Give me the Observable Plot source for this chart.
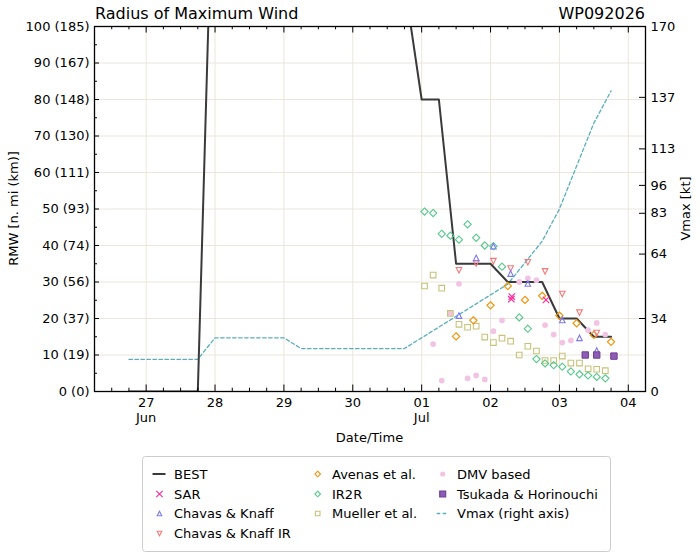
<!DOCTYPE html>
<html>
<head>
<meta charset="utf-8">
<script src="https://cdn.jsdelivr.net/npm/d3@7"></script>
<script src="https://cdn.jsdelivr.net/npm/@observablehq/plot@0.6"></script>
<style>
  body { margin: 0; background: #fff; }
  #chart { position: relative; width: 700px; height: 559px; font-family: "DejaVu Sans", sans-serif; }
  #chart svg { position: absolute; left: 0; top: 0; }
</style>
</head>
<body>
<div id="chart"></div>
<script>
// ---- Storm WP092026: radius of maximum wind estimates (n mi) and intensity (kt) ----
const bestTimes = ["2026-06-26T18:00","2026-06-27T00:00","2026-06-27T06:00","2026-06-27T12:00","2026-06-27T18:00",
  "2026-06-28T00:00","2026-06-30T18:00","2026-07-01T00:00","2026-07-01T06:00","2026-07-01T12:00","2026-07-01T18:00",
  "2026-07-02T00:00","2026-07-02T06:00","2026-07-02T12:00","2026-07-02T18:00","2026-07-03T00:00","2026-07-03T06:00",
  "2026-07-03T12:00","2026-07-03T18:00"];
const bestRmw = [0,0,0,0,0,165,112,80,80,35,35,35,30,30,30,20,20,15,15];

const vmaxTimes = ["2026-06-26T18:00","2026-06-27T00:00","2026-06-27T06:00","2026-06-27T12:00","2026-06-27T18:00",
  "2026-06-28T00:00","2026-06-28T06:00","2026-06-28T12:00","2026-06-28T18:00","2026-06-29T00:00",
  "2026-06-29T06:00","2026-06-29T12:00","2026-06-29T18:00","2026-06-30T00:00","2026-06-30T06:00","2026-06-30T12:00","2026-06-30T18:00",
  "2026-07-01T00:00","2026-07-01T06:00","2026-07-01T12:00","2026-07-01T18:00",
  "2026-07-02T00:00","2026-07-02T06:00","2026-07-02T12:00","2026-07-02T18:00",
  "2026-07-03T00:00","2026-07-03T06:00","2026-07-03T12:00","2026-07-03T18:00"];
const vmaxKt = [15,15,15,15,15, 25,25,25,25,25, 20,20,20,20,20,20,20, 25,30,35,40, 45,50,60,70, 85,105,125,140];

const sarTimes = ["2026-07-02T07:15","2026-07-02T07:25","2026-07-02T19:20"];
const sarRmw = [25.3, 26.0, 25.1];

const ckTimes = ["2026-07-01T13:00","2026-07-01T19:00","2026-07-02T01:00","2026-07-02T07:00","2026-07-02T13:00",
  "2026-07-03T01:00","2026-07-03T07:00","2026-07-03T13:00"];
const ckRmw = [20.8, 36.6, 39.8, 32.3, 29.6, 19.6, 14.7, 11.2];

const ckirTimes = ["2026-07-01T13:00","2026-07-01T19:00","2026-07-02T01:00","2026-07-02T07:00","2026-07-02T13:00",
  "2026-07-02T19:00","2026-07-03T01:00","2026-07-03T07:00","2026-07-03T13:00"];
const ckirRmw = [33.2, 35.1, 35.7, 33.7, 35.4, 32.9, 26.7, 21.6, 16.0];

const avenasTimes = ["2026-07-01T12:00","2026-07-01T18:00","2026-07-02T00:00","2026-07-02T06:00","2026-07-02T12:00",
  "2026-07-02T18:00","2026-07-03T00:00","2026-07-03T06:00","2026-07-03T12:00","2026-07-03T18:00"];
const avenasRmw = [15.1, 19.5, 23.6, 28.9, 25.1, 26.2, 20.8, 18.7, 15.5, 13.6];

const ir2rTimes = ["2026-07-01T01:00","2026-07-01T04:00","2026-07-01T07:00","2026-07-01T10:00","2026-07-01T13:00",
  "2026-07-01T16:00","2026-07-01T19:00","2026-07-01T22:00","2026-07-02T01:00","2026-07-02T04:00",
  "2026-07-02T10:00","2026-07-02T13:00","2026-07-02T16:00","2026-07-02T19:00","2026-07-02T22:00",
  "2026-07-03T01:00","2026-07-03T04:00","2026-07-03T07:00","2026-07-03T10:00","2026-07-03T13:00","2026-07-03T16:00"];
const ir2rRmw = [49.3, 48.9, 43.2, 42.7, 41.6, 45.8, 42.1, 40.0, 39.8, 34.2, 20.3, 17.2, 8.9, 7.7, 7.2, 6.8, 5.5, 4.7, 4.4, 4.0, 3.6];

const muellerTimes = ["2026-07-01T01:00","2026-07-01T04:00","2026-07-01T07:00","2026-07-01T10:00","2026-07-01T13:00",
  "2026-07-01T16:00","2026-07-01T19:00","2026-07-01T22:00","2026-07-02T01:00","2026-07-02T04:00","2026-07-02T07:00",
  "2026-07-02T10:00","2026-07-02T13:00","2026-07-02T16:00","2026-07-02T19:00","2026-07-02T22:00",
  "2026-07-03T01:00","2026-07-03T04:00","2026-07-03T07:00","2026-07-03T10:00","2026-07-03T13:00","2026-07-03T16:00"];
const muellerRmw = [28.9, 31.9, 28.3, 21.4, 18.4, 17.6, 17.9, 14.9, 13.4, 14.6, 13.8, 10.0, 12.4, 11.1, 8.5, 8.5, 9.7, 7.8, 7.8, 6.2, 6.1, 5.7];

const dmvTimes = ["2026-07-01T04:00","2026-07-01T07:00","2026-07-01T10:00","2026-07-01T13:00","2026-07-01T16:00",
  "2026-07-01T19:00","2026-07-01T22:00","2026-07-02T01:00","2026-07-02T04:00","2026-07-02T10:00","2026-07-02T13:00",
  "2026-07-02T16:00","2026-07-02T19:00","2026-07-02T22:00","2026-07-03T01:00","2026-07-03T04:00",
  "2026-07-03T10:00","2026-07-03T13:00","2026-07-03T16:00"];
const dmvRmw = [13.0, 3.0, 21.4, 29.5, 3.6, 4.4, 3.3, 16.5, 19.5, 30.0, 31.0, 30.5, 18.2, 15.6, 13.4, 14.0, 16.8, 18.8, 15.6];

const tsukadaTimes = ["2026-07-03T09:00","2026-07-03T13:00","2026-07-03T19:00"];
const tsukadaRmw = [10.0, 10.0, 9.7];

// axis ticks
const rmwTicks = [0,10,20,30,40,50,60,70,80,90,100];
const rmwMinor = [5,15,25,35,45,55,65,75,85,95];
const vmaxTicks = [0,34,64,83,96,113,137,170];
const dayTicks = ["2026-06-27","2026-06-28","2026-06-29","2026-06-30","2026-07-01","2026-07-02","2026-07-03","2026-07-04"];

// ---- helpers ----
const T = s => new Date(s + (s.length === 10 ? "T00:00Z" : "Z"));
const rows = (times, vals) => times.map((t, i) => ({t: T(t), v: vals[i]}));
const KT = 100 / 170; // right axis (kt) shares the left axis range

const best = rows(bestTimes, bestRmw);
const vmax = vmaxTimes.map((t, i) => ({t: T(t), v: vmaxKt[i] * KT}));
const days = dayTicks.map(T);
const x0 = T("2026-06-26T06:00"), x1 = T("2026-07-04T06:00");
const minorX = d3.utcHour.every(6).range(x0, x1).filter(d => d.getUTCHours() !== 0);

// custom marker shapes; r is recovered from Plot's symbol size (π r²)
const R = s => Math.sqrt(s / Math.PI);
const shapes = {
  diamond: {draw(c, s) { const r = R(s); c.moveTo(0, -r); c.lineTo(r, 0); c.lineTo(0, r); c.lineTo(-r, 0); c.closePath(); }},
  triUp: {draw(c, s) { const r = R(s); c.moveTo(0, -r); c.lineTo(r, r); c.lineTo(-r, r); c.closePath(); }},
  triDown: {draw(c, s) { const r = R(s); c.moveTo(0, r); c.lineTo(r, -r); c.lineTo(-r, -r); c.closePath(); }},
  square: {draw(c, s) { const r = R(s); c.rect(-r, -r, 2 * r, 2 * r); }},
  cross: {draw(c, s) { const r = R(s); c.moveTo(-r, -r); c.lineTo(r, r); c.moveTo(r, -r); c.lineTo(-r, r); }},
  circle: {draw(c, s) { const r = R(s); c.moveTo(r, 0); c.arc(0, 0, r, 0, 2 * Math.PI); }}
};

const C = {
  best: "#3a3a3a", sar: "#ff2a9a", ck: "#7b7bf2", ckir: "#f47a7a", avenas: "#f0950f",
  ir2r: "#55c88a", mueller: "#c9c27a", dmv: "#f2c4e4", tsukada: "#8e5bb5", tsukadaEdge: "#6e3d96", vmax: "#58aebd"
};

const W = 700, H = 445, ML = 94, MR = 55, MT = 26, MB = 54;
const FW = W - ML - MR, FH = H - MT - MB;

const fmtDay = d3.utcFormat("%d"), fmtMon = d3.utcFormat("%b");
const xFormat = d => (+d === +days[0] || d.getUTCDate() === 1) ? fmtDay(d) + "\n" + fmtMon(d) : fmtDay(d);

const plot = Plot.plot({
  width: W, height: H,
  marginLeft: ML, marginRight: MR, marginTop: MT, marginBottom: MB,
  style: {fontFamily: '"DejaVu Sans", sans-serif', fontSize: "13px", color: "#000", background: "transparent"},
  x: {type: "utc", domain: [x0, x1]},
  y: {domain: [0, 100]},
  marks: [
    // grid
    Plot.ruleY(rmwTicks.slice(1, -1), {stroke: "#ebe6dc", strokeWidth: 1}),
    Plot.ruleX(days, {stroke: "#ebe6dc", strokeWidth: 1}),
    // intensity on the right axis
    Plot.line(vmax, {x: "t", y: "v", stroke: C.vmax, strokeWidth: 1.3, strokeDasharray: "3.5,2.5"}),
    // best track RMW
    Plot.line(best, {x: "t", y: "v", stroke: C.best, strokeWidth: 2, clip: true}),
    // estimates
    Plot.dot(rows(dmvTimes, dmvRmw), {x: "t", y: "v", symbol: shapes.circle, r: 2.9, fill: C.dmv, stroke: "none"}),
    Plot.dot(rows(muellerTimes, muellerRmw), {x: "t", y: "v", symbol: shapes.square, r: 2.8, fill: "none", stroke: C.mueller, strokeWidth: 1.1}),
    Plot.dot(rows(ir2rTimes, ir2rRmw), {x: "t", y: "v", symbol: shapes.diamond, r: 3.6, fill: "none", stroke: C.ir2r, strokeWidth: 1.1}),
    Plot.dot(rows(avenasTimes, avenasRmw), {x: "t", y: "v", symbol: shapes.diamond, r: 3.6, fill: "none", stroke: C.avenas, strokeWidth: 1.2}),
    Plot.dot(rows(ckirTimes, ckirRmw), {x: "t", y: "v", symbol: shapes.triDown, r: 2.8, fill: "none", stroke: C.ckir, strokeWidth: 1.1}),
    Plot.dot(rows(ckTimes, ckRmw), {x: "t", y: "v", symbol: shapes.triUp, r: 2.8, fill: "none", stroke: C.ck, strokeWidth: 1.1}),
    Plot.dot(rows(sarTimes, sarRmw), {x: "t", y: "v", symbol: shapes.cross, r: 3.2, fill: "none", stroke: C.sar, strokeWidth: 1.2}),
    Plot.dot(rows(tsukadaTimes, tsukadaRmw), {x: "t", y: "v", symbol: shapes.square, r: 3.2, fill: C.tsukada, stroke: C.tsukadaEdge, strokeWidth: 1}),
    // frame
    Plot.frame({stroke: "#000", strokeWidth: 1.3}),
    // inward tick marks
    Plot.tickY(rmwTicks, {insetRight: FW - 5, stroke: "#000", strokeWidth: 1}),
    Plot.tickY(rmwMinor, {insetRight: FW - 3, stroke: "#000", strokeWidth: 1}),
    Plot.tickY(vmaxTicks.map(k => k * KT), {insetLeft: FW - 6, stroke: "#000", strokeWidth: 1}),
    Plot.tickX(days, {insetTop: FH - 6.5, stroke: "#000", strokeWidth: 1}),
    Plot.tickX(minorX, {insetTop: FH - 3.3, stroke: "#000", strokeWidth: 1}),
    Plot.tickX(days, {insetBottom: FH - 6.5, stroke: "#000", strokeWidth: 1}),
    Plot.tickX(minorX, {insetBottom: FH - 3.3, stroke: "#000", strokeWidth: 1}),
    // tick labels
    Plot.axisY(rmwTicks, {anchor: "left", tickSize: 0, tickPadding: 5, label: null,
      tickFormat: n => `${n} (${Math.round(n * 1.852)})`}),
    Plot.axisY(vmaxTicks.map(k => k * KT), {anchor: "right", tickSize: 0, tickPadding: 5, label: null,
      tickFormat: d => Math.round(d / KT)}),
    Plot.axisX(days, {anchor: "bottom", tickSize: 0, tickPadding: 5, label: null, lineHeight: 1.15, tickFormat: xFormat})
  ]
});
document.getElementById("chart").appendChild(plot);

// ---- titles, axis titles and legend ----
const ov = d3.select("#chart").append("svg")
  .attr("width", 700).attr("height", 559)
  .style("font-family", '"DejaVu Sans", sans-serif').style("pointer-events", "none");

ov.append("text").attr("x", 95).attr("y", 19).attr("font-size", 16).text("Radius of Maximum Wind");
ov.append("text").attr("x", 645).attr("y", 19).attr("font-size", 16).attr("text-anchor", "end").text("WP092026");
ov.append("text").attr("transform", "translate(18,208.5) rotate(-90)").attr("font-size", 13)
  .attr("text-anchor", "middle").text("RMW [n. mi (km)]");
ov.append("text").attr("transform", "translate(690,208.5) rotate(-90)").attr("font-size", 13)
  .attr("text-anchor", "middle").text("Vmax [kt]");
ov.append("text").attr("x", 369.5).attr("y", 442).attr("font-size", 13)
  .attr("text-anchor", "middle").text("Date/Time");

const lg = ov.append("g");
lg.append("rect").attr("x", 142.5).attr("y", 456.5).attr("width", 468).attr("height", 95).attr("rx", 3)
  .attr("fill", "#fff").attr("stroke", "#cccccc").attr("stroke-width", 1);

const rowY = [474, 494, 513.5, 533.5];
const legendItems = [
  {col: 0, row: 0, label: "BEST", kind: "line"},
  {col: 0, row: 1, label: "SAR", shape: shapes.cross, r: 3.2, stroke: C.sar},
  {col: 0, row: 2, label: "Chavas & Knaff", shape: shapes.triUp, r: 2.3, stroke: C.ck},
  {col: 0, row: 3, label: "Chavas & Knaff IR", shape: shapes.triDown, r: 2.3, stroke: C.ckir},
  {col: 1, row: 0, label: "Avenas et al.", shape: shapes.diamond, r: 2.8, stroke: C.avenas},
  {col: 1, row: 1, label: "IR2R", shape: shapes.diamond, r: 2.8, stroke: C.ir2r},
  {col: 1, row: 2, label: "Mueller et al.", shape: shapes.square, r: 2.3, stroke: C.mueller},
  {col: 2, row: 0, label: "DMV based", shape: shapes.circle, r: 2.6, fill: C.dmv},
  {col: 2, row: 1, label: "Tsukada & Horinouchi", shape: shapes.square, r: 3, fill: C.tsukada, stroke: C.tsukadaEdge},
  {col: 2, row: 2, label: "Vmax (right axis)", kind: "dash"}
];
const markX = [159.5, 317.7, 442.7], textX = [174, 332, 457];
for (const it of legendItems) {
  const cx = markX[it.col], cy = rowY[it.row];
  if (it.kind === "line") {
    lg.append("line").attr("x1", cx - 7).attr("x2", cx + 6).attr("y1", cy).attr("y2", cy)
      .attr("stroke", C.best).attr("stroke-width", 2);
  } else if (it.kind === "dash") {
    lg.append("line").attr("x1", cx - 6).attr("x2", cx + 6).attr("y1", cy).attr("y2", cy)
      .attr("stroke", C.vmax).attr("stroke-width", 1.3).attr("stroke-dasharray", "3.5,2.5");
  } else {
    lg.append("path").attr("transform", `translate(${cx},${cy})`)
      .attr("d", d3.symbol(it.shape, it.r * it.r * Math.PI)())
      .attr("fill", it.fill || "none").attr("stroke", it.stroke || "none").attr("stroke-width", 1.1);
  }
  lg.append("text").attr("x", textX[it.col]).attr("y", cy + 4.7).attr("font-size", 13).text(it.label);
}
</script>
</body>
</html>
